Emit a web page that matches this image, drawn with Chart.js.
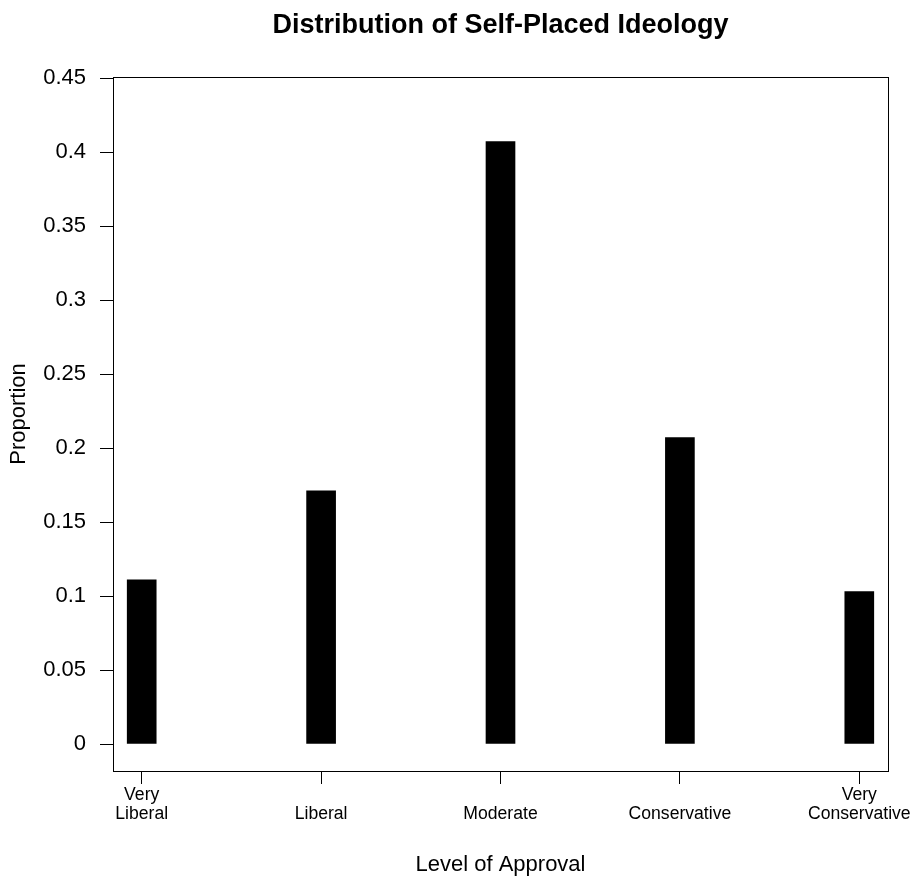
<!DOCTYPE html>
<html>
<head>
<meta charset="utf-8">
<script src="https://cdn.jsdelivr.net/npm/chart.js@4.4.1/dist/chart.umd.min.js"></script>
<style>
  html, body { margin: 0; padding: 0; background: #ffffff; }
  #wrap { width: 917px; height: 882px; position: relative; }
</style>
</head>
<body>
<div id="wrap"><canvas id="c" width="917" height="882"></canvas></div>
<script>
// ---- data ----
const categories = [["Very", "Liberal"], ["", "Liberal"], ["", "Moderate"], ["", "Conservative"], ["Very", "Conservative"]];
const positions = [1, 2, 3, 4, 5];
const proportions = [0.111, 0.171, 0.407, 0.207, 0.103];
const yTicks = [0, 0.05, 0.1, 0.15, 0.2, 0.25, 0.3, 0.35, 0.4, 0.45];
const yTitle = 'Proportion';

const FONT = "'Liberation Sans', Arial, Helvetica, sans-serif";

const boxPlugin = {
  id: 'boxPlugin',
  afterDraw(chart) {
    const { ctx, chartArea: a } = chart;
    ctx.save();
    ctx.strokeStyle = '#000';
    ctx.lineWidth = 1;
    ctx.strokeRect(Math.round(a.left) + 0.5, Math.round(a.top) + 0.5,
                   Math.round(a.right - a.left), Math.round(a.bottom - a.top));
    // y-axis title
    ctx.translate(19, 414);
    ctx.rotate(-Math.PI / 2);
    ctx.fillStyle = '#000';
    ctx.font = '22px ' + FONT;
    ctx.textAlign = 'center';
    ctx.textBaseline = 'middle';
    ctx.fillText(yTitle, 0, 0);
    ctx.restore();
  }
};

new Chart(document.getElementById('c'), {
  type: 'bar',
  data: {
    datasets: [{
      data: positions.map((x, i) => ({ x: x, y: proportions[i] })),
      backgroundColor: '#000000',
      borderWidth: 0,
      barThickness: 29
    }]
  },
  plugins: [boxPlugin],
  options: {
    responsive: false,
    animation: false,
    events: [],
    layout: { padding: { left: 0, right: 29, top: 0, bottom: 0 } },
    plugins: {
      legend: { display: false },
      tooltip: { enabled: false },
      title: {
        display: true,
        fullSize: false,
        text: 'Distribution of Self-Placed Ideology',
        color: '#000',
        font: { family: FONT, size: 27, weight: 'bold' },
        padding: { top: 9, bottom: 35.6 }
      }
    },
    scales: {
      x: {
        type: 'linear',
        min: 0.84,
        max: 5.16,
        offset: false,
        afterFit(scale) { scale.height = 111; },
        afterBuildTicks(scale) { scale.ticks = positions.map(v => ({ value: v })); },
        ticks: {
          autoSkip: false,
          maxRotation: 0,
          minRotation: 0,
          padding: 1,
          color: '#000',
          font: { family: FONT, size: 17.6, lineHeight: 1.1 },
          callback: (v) => categories[positions.indexOf(v)]
        },
        grid: { offset: false, drawOnChartArea: false, drawTicks: true, tickLength: 13, color: '#000', lineWidth: 1 },
        border: { display: true, color: '#000', width: 1 },
        title: {
          display: true,
          text: 'Level of Approval',
          color: '#000',
          font: { family: FONT, size: 22 },
          padding: { top: 0, bottom: 4 }
        }
      },
      y: {
        type: 'linear',
        min: -0.01824,
        max: 0.45068,
        afterFit(scale) { scale.width = 113; },
        afterBuildTicks(scale) { scale.ticks = yTicks.map(v => ({ value: v })); },
        ticks: {
          padding: 14,
          color: '#000',
          font: { family: FONT, size: 22 },
          callback: (v) => String(Number(v.toFixed(2)))
        },
        grid: { drawOnChartArea: false, drawTicks: true, tickLength: 13, color: '#000', lineWidth: 1 },
        border: { display: true, color: '#000', width: 1 },
        title: { display: false }
      }
    }
  }
});
</script>
</body>
</html>
